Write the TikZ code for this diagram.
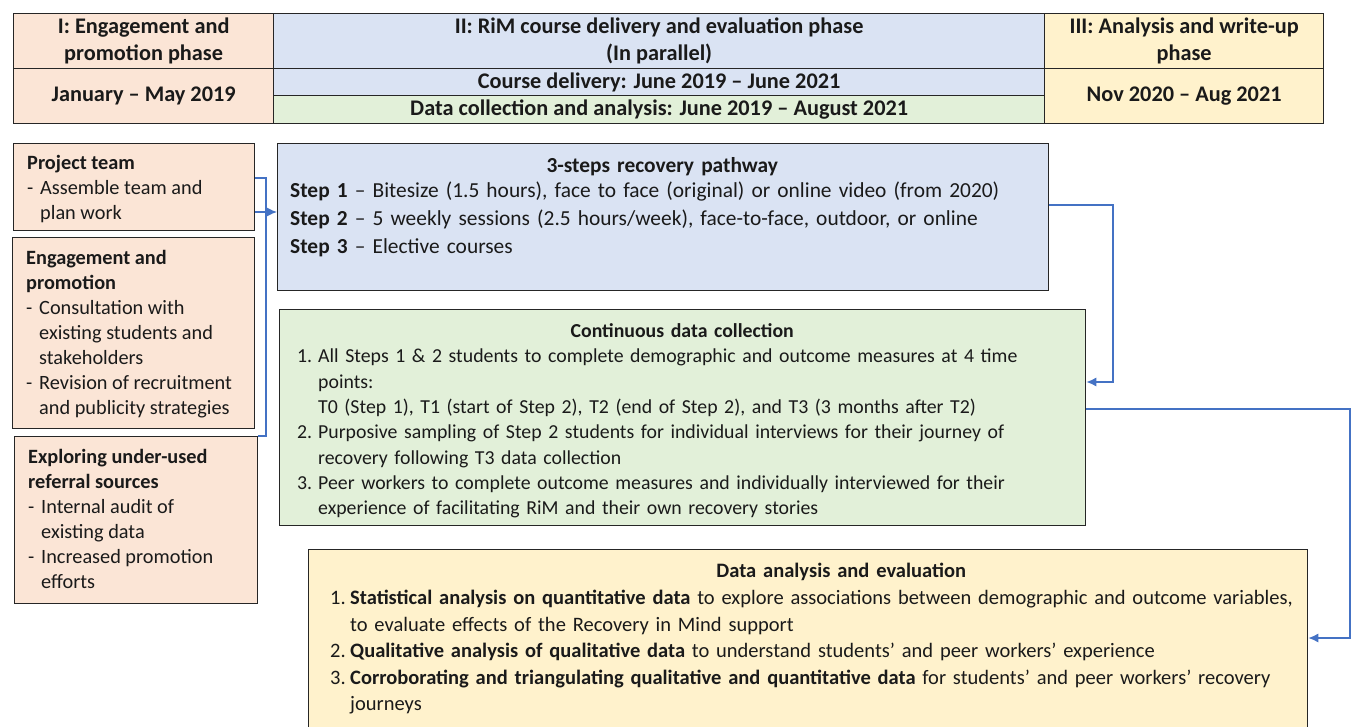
\documentclass[tikz,border=0pt]{standalone}
\usepackage{fontspec}
\setmainfont{Carlito}
\usetikzlibrary{arrows.meta}

\definecolor{peach}{HTML}{FBE5D6}
\definecolor{paleblue}{HTML}{DAE3F3}
\definecolor{palegreen}{HTML}{E2F0D9}
\definecolor{paleyellow}{HTML}{FFF2CC}
\definecolor{edge}{HTML}{262626}
\definecolor{flow}{HTML}{4472C4}
\definecolor{ink}{HTML}{1A1A1A}

% hanging indents for dashes and numbered items
\newcommand{\dashitem}{\makebox[13pt][l]{-}}
\newcommand{\dashhang}{\hspace*{13pt}}
\newcommand{\numitem}[1]{\makebox[21pt][l]{#1}}
\newcommand{\numhang}{\hspace*{21pt}}

\begin{document}
\begin{tikzpicture}[
    x=1pt, y=-1pt,
    cell/.style={
        draw=edge,
        line width=1.3pt,
        inner sep=0pt,
        anchor=north west,
        align=center,
        text=ink,
        font=\fontsize{22.3}{27}\selectfont\bfseries
    },
    box/.style={
        draw=edge,
        line width=1.3pt,
        inner sep=0pt,
        anchor=north west
    },
    side/.style={
        inner sep=0pt,
        anchor=north west,
        align=left,
        text=ink,
        font=\fontsize{20.3}{25}\selectfont
    },
    body/.style={
        inner sep=0pt,
        anchor=north west,
        align=left,
        text=ink
    },
    link/.style={
        draw=flow,
        line width=1.3pt
    },
    arrow/.style={
        link,
        -{Latex[length=10pt,width=9pt]}
    }
]
    \clip (0,0) rectangle (1352,727);

    % Phase table along the top
    \node[cell, fill=peach, minimum width=260, minimum height=55] (ph1) at (13,13) {I: Engagement and\\promotion phase};
    \node[cell, fill=paleblue, minimum width=771, minimum height=55] (ph2) at (273,13) {II: RiM course delivery and evaluation phase\\(In parallel)};
    \node[cell, fill=paleyellow, minimum width=279, minimum height=55] (ph3) at (1044,13) {III: Analysis and write-up\\phase};
    \node[cell, fill=peach, minimum width=260, minimum height=55] (date1) at (13,68) {January -- May 2019};
    \node[cell, fill=paleblue, minimum width=771, minimum height=27] (date2a) at (273,68) {Course delivery: June 2019 -- June 2021};
    \node[cell, fill=palegreen, minimum width=771, minimum height=28] (date2b) at (273,95) {Data collection and analysis: June 2019 -- August 2021};
    \node[cell, fill=paleyellow, minimum width=279, minimum height=55] (date3) at (1044,68) {Nov 2020 -- Aug 2021};

    % Phase I boxes
    \node[box, fill=peach, minimum width=241, minimum height=87] (team) at (13,143) {};
    \node[side] (team-t) at (27,155.5) {\textbf{Project team}\\
        \dashitem Assemble team and\\
        \dashhang plan work};

    \node[box, fill=peach, minimum width=242, minimum height=191] (engage) at (12,237) {};
    \node[side] (engage-t) at (26,250.5) {\textbf{Engagement and}\\
        \textbf{promotion}\\
        \dashitem Consultation with\\
        \dashhang existing students and\\
        \dashhang stakeholders\\
        \dashitem Revision of recruitment\\
        \dashhang and publicity strategies};

    \node[box, fill=peach, minimum width=243, minimum height=167] (explore) at (14,436) {};
    \node[side] (explore-t) at (28,449.5) {\textbf{Exploring under-used}\\
        \textbf{referral sources}\\
        \dashitem Internal audit of\\
        \dashhang existing data\\
        \dashitem Increased promotion\\
        \dashhang efforts};

    % Phase II boxes
    \node[box, fill=paleblue, minimum width=771, minimum height=147] (pathway) at (277,143) {};
    \node[body, text width=744, font=\fontsize{21.4}{26}\selectfont] (pathway-t) at (290,157) {\centerline{\bfseries 3-steps recovery pathway}\\[-1pt]
        \textbf{Step 1} -- Bitesize (1.5 hours), face to face (original) or online video (from 2020)\\[2pt]
        \textbf{Step 2} -- 5 weekly sessions (2.5 hours/week), face-to-face, outdoor, or online\\[2pt]
        \textbf{Step 3} -- Elective courses};

    \node[box, fill=palegreen, minimum width=806, minimum height=216] (collect) at (279,309) {};
    \node[body, text width=770, font=\fontsize{19.8}{25.3}\selectfont] (collect-t) at (297,323.5) {\centerline{\bfseries Continuous data collection}\\
        \numitem{1.}All Steps 1 \& 2 students to complete demographic and outcome measures at 4 time\\
        \numhang points:\\
        \numhang T0 (Step 1), T1 (start of Step 2), T2 (end of Step 2), and T3 (3 months after T2)\\
        \numitem{2.}Purposive sampling of Step 2 students for individual interviews for their journey of\\
        \numhang recovery following T3 data collection\\
        \numitem{3.}Peer workers to complete outcome measures and individually interviewed for their\\
        \numhang experience of facilitating RiM and their own recovery stories};

    % Phase III box
    \node[box, fill=paleyellow, minimum width=999, minimum height=200] (analysis) at (308,549) {};
    \node[body, text width=985, font=\fontsize{20.5}{26.6}\selectfont] (analysis-t) at (330,563.3) {\makebox[\hsize]{\hspace*{37pt}\bfseries Data analysis and evaluation}\\
        \makebox[20pt][l]{1.}\textbf{Statistical analysis on quantitative data} to explore associations between demographic and outcome variables,\\
        \hspace*{20pt}to evaluate effects of the Recovery in Mind support\\
        \makebox[20pt][l]{2.}\textbf{Qualitative analysis of qualitative data} to understand students’ and peer workers’ experience\\
        \makebox[20pt][l]{3.}\textbf{Corroborating and triangulating qualitative and quantitative data} for students’ and peer workers’ recovery\\
        \hspace*{20pt}journeys};

    % Connectors
    \draw[link] (team.north east |- 0,178) -- (266,178) -- (266,436) -- (explore.north east);
    \draw[arrow] (team.east |- 0,212) -- (pathway.west |- 0,212);
    \draw[arrow] (pathway.east |- 0,205) -- (1113,205) -- (1113,382) -- (collect.east |- 0,382);
    \draw[arrow] (collect.east |- 0,409) -- (1350,409) -- (1350,638) -- (analysis.east |- 0,638);
\end{tikzpicture}
\end{document}
